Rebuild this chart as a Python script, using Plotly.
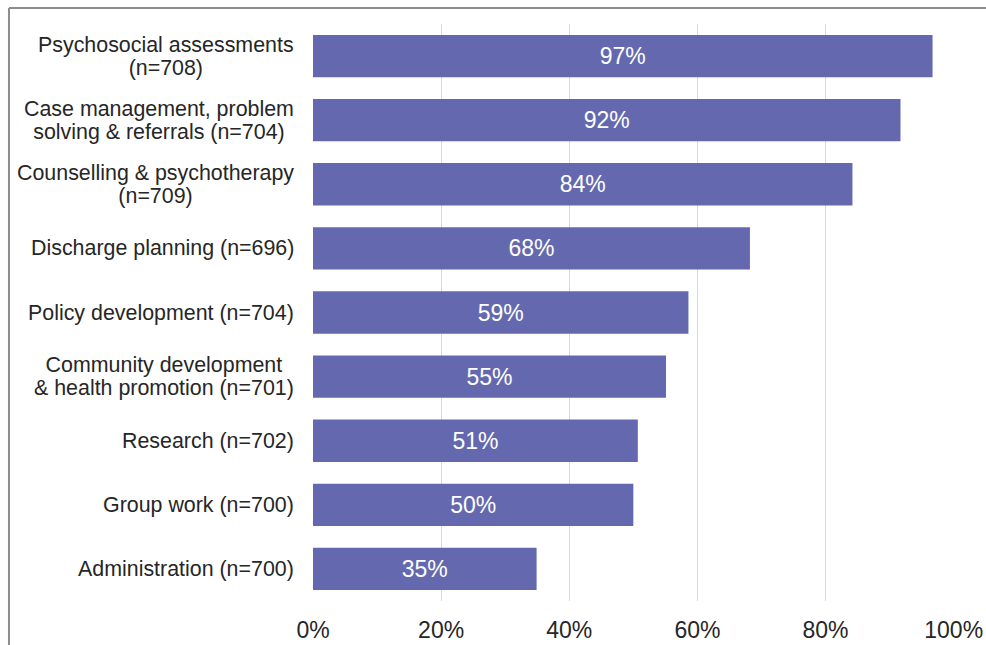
import plotly.graph_objects as go

categories = [
    "Psychosocial assessments<br>(n=708)",
    "Case management, problem<br>solving & referrals (n=704)",
    "Counselling & psychotherapy<br>(n=709)",
    "Discharge planning (n=696)",
    "Policy development (n=704)",
    "Community development<br>& health promotion (n=701)",
    "Research (n=702)",
    "Group work (n=700)",
    "Administration (n=700)",
]
values = [0.967, 0.917, 0.842, 0.682, 0.586, 0.551, 0.507, 0.500, 0.349]
tick_vals = [0, 0.2, 0.4, 0.6, 0.8, 1.0]

BAR = "#6469AF"
FONT = "Liberation Sans, Arial, sans-serif"

fig = go.Figure(go.Bar(
    x=values, y=categories, orientation="h",
    marker=dict(color=BAR, line=dict(width=0)),
    width=0.66,
    text=[f"{round(v*100)}%" for v in values],
    textposition="inside", insidetextanchor="middle",
    textangle=0,
    textfont=dict(color="white", size=23, family=FONT),
    hoverinfo="skip",
))

annotations = []
for c in categories:
    lines = c.split("<br>")
    txt = "<br>".join(f"<span style='font-size:21.4px'>{ln}</span>" for ln in lines)
    annotations.append(dict(
        x=0, xref="paper", y=c, yref="y", xanchor="right", yanchor="middle",
        xshift=-17, text=txt, showarrow=False, align="center",
        font=dict(size=17.8, color="#262626", family=FONT),
    ))

fig.update_layout(
    width=986, height=645,
    margin=dict(l=313, r=32, t=24, b=44, autoexpand=False),
    paper_bgcolor="white", plot_bgcolor="white",
    showlegend=False,
    bargap=0.34,
    annotations=annotations,
    shapes=[
        dict(type="line", xref="paper", yref="paper", x0=-0.4743, x1=1.2,
             y0=1.0277, y1=1.0277, line=dict(color="#8c8c8c", width=2)),
        dict(type="line", xref="paper", yref="paper", x0=-0.4743, x1=-0.4743,
             y0=1.0277, y1=-0.2, line=dict(color="#8c8c8c", width=2)),
    ],
)
fig.update_xaxes(
    range=[0, 1.0005], tickvals=tick_vals, tickformat=".0%",
    showgrid=True, gridcolor="#d9d9d9", gridwidth=1,
    zeroline=False, showline=False, ticks="", automargin=False,
    tickfont=dict(size=23, color="#262626", family=FONT),
    ticklabelstandoff=13, fixedrange=True,
)
fig.update_yaxes(
    autorange="reversed", showticklabels=False, showgrid=False,
    zeroline=False, showline=False, ticks="", fixedrange=True, automargin=False,
)

fig.write_html(
    "out.html",
    config={"displayModeBar": False},
    post_script="document.body.style.margin='0';document.body.style.overflow='hidden';",
)
